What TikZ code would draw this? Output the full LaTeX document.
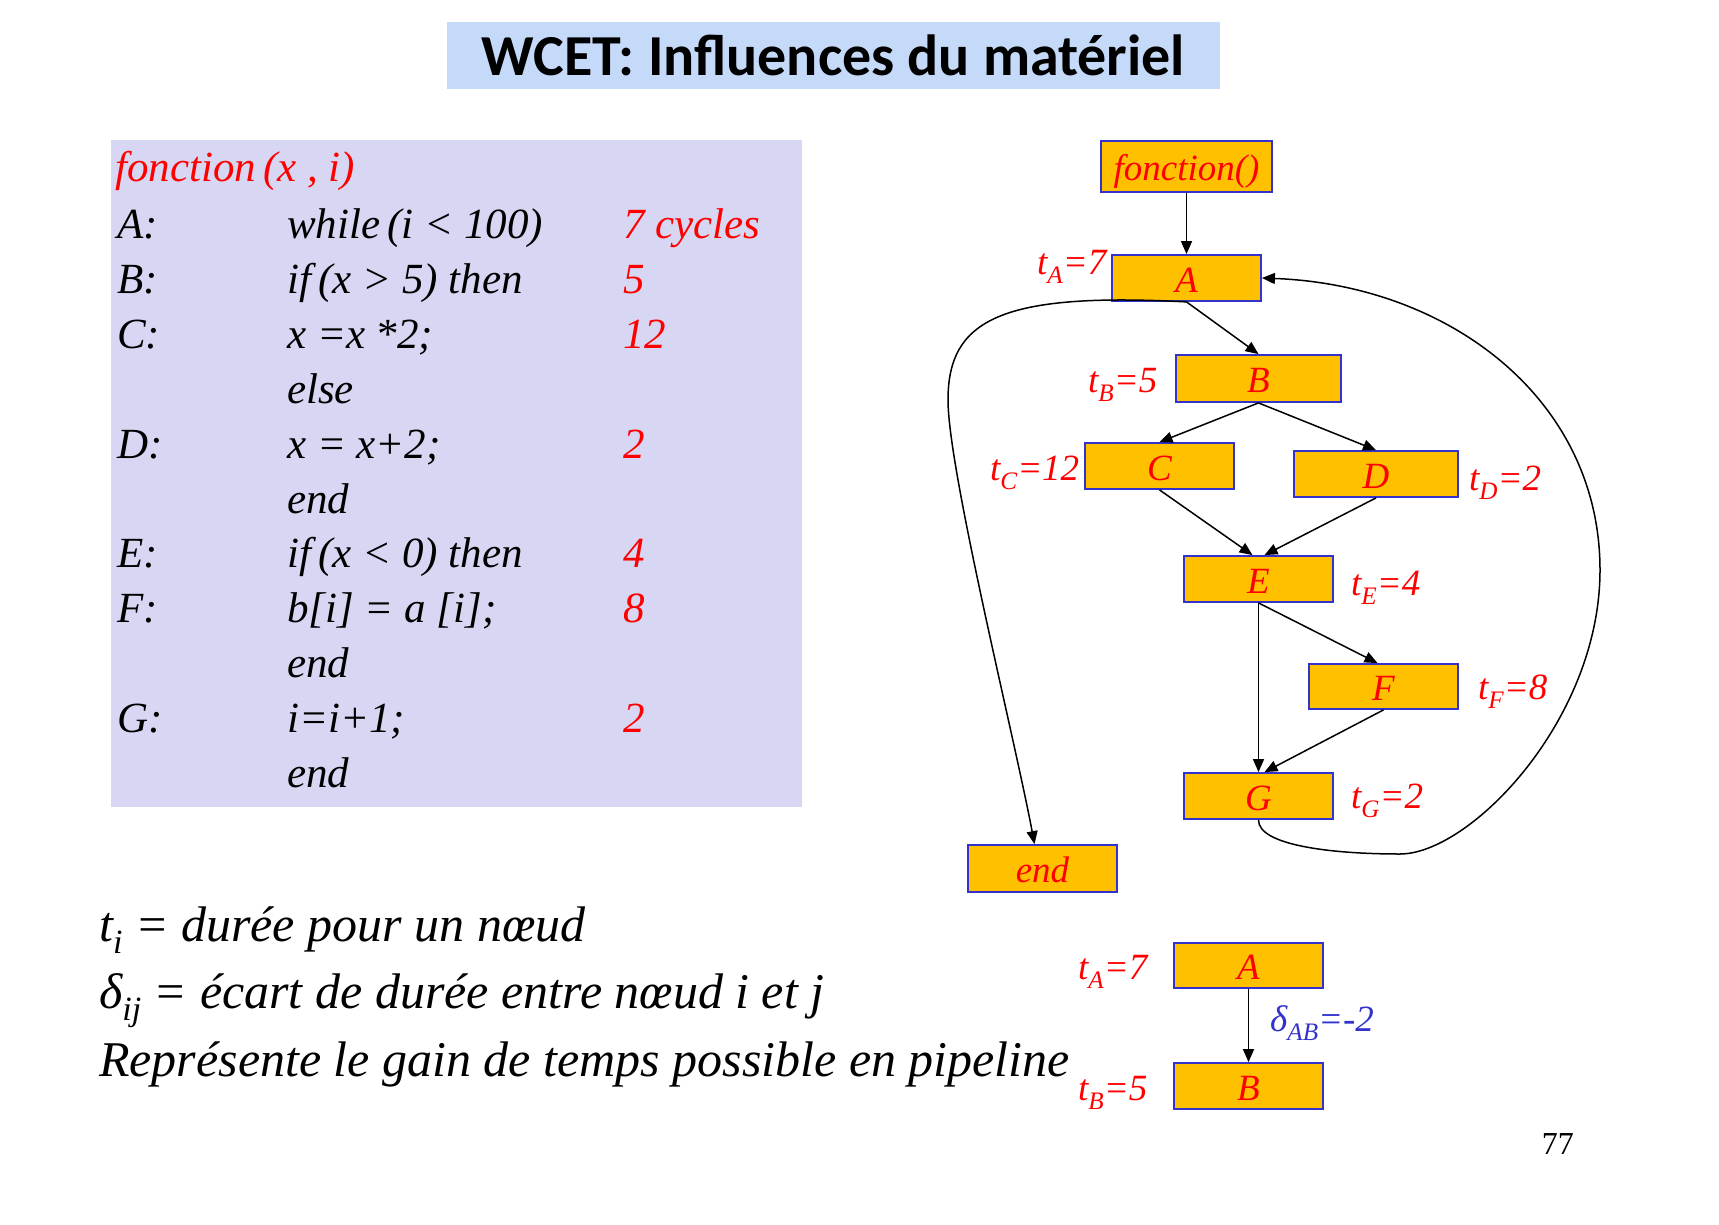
\documentclass[tikz,border=0pt]{standalone}
\usepackage{fontspec}
\usepackage{graphicx}
\setmainfont{Liberation Serif}
\newfontfamily\titlefont{Carlito}
\usetikzlibrary{arrows.meta}

\definecolor{boxgold}{RGB}{255,192,0}
\definecolor{boxblue}{RGB}{51,51,204}
\definecolor{codebg}{RGB}{215,215,244}
\definecolor{titlebg}{RGB}{197,217,248}

% lowered, reduced subscript in the current font
\newcommand\lowsub[1]{\raisebox{-0.25em}{\scalebox{0.68}{#1}}}

\begin{document}
\begin{tikzpicture}[x=1pt,y=-1pt,
  nbox/.style={draw=boxblue, fill=boxgold, line width=1.8pt,
    minimum width=149pt, minimum height=46pt, inner sep=0pt,
    text height=30pt, text depth=2pt, text=red,
    font=\itshape\fontsize{37}{40}\selectfont},
  tlabel/.style={anchor=base west, inner sep=0pt, text=red,
    font=\itshape\fontsize{37}{40}\selectfont},
  codetxt/.style={anchor=base west, inner sep=0pt,
    font=\itshape\fontsize{43}{46}\selectfont},
  codenum/.style={codetxt, text=red},
  legendtxt/.style={anchor=base west, inner sep=0pt,
    font=\itshape\fontsize{50}{54}\selectfont},
  flow/.style={line width=1.5pt, draw=black,
    -{Triangle[length=13pt,width=11pt]}}]

\useasboundingbox (0,0) rectangle (1719,1225);
\fill[white] (0,0) rectangle (1719,1225);

% title
\node[fill=titlebg, minimum width=773pt, minimum height=67pt, inner sep=0pt,
  font=\titlefont\bfseries\fontsize{58}{62}\selectfont] (title) at (833.5,55.5)
  {WCET: Influences du matériel};

% code listing
\fill[codebg] (111,140) rectangle (802,807);
\node[codenum] (sig) at (115,182) {fonction\,(x , i)};

\node[codetxt] (labA) at (117,239) {A:};
\node[codetxt] (codeA) at (287,239) {while\,(i < 100)};
\node[codenum] (numA) at (623,239) {7 cycles};

\node[codetxt] (labB) at (117,293.8) {B:};
\node[codetxt] (codeB) at (287,293.8) {if\,(x > 5) then};
\node[codenum] (numB) at (623,293.8) {5};

\node[codetxt] (labC) at (117,348.6) {C:};
\node[codetxt] (codeC) at (287,348.6) {x =x *2;};
\node[codenum] (numC) at (623,348.6) {12};

\node[codetxt] (else1) at (287,403.4) {else};

\node[codetxt] (labD) at (117,458.2) {D:};
\node[codetxt] (codeD) at (287,458.2) {x = x+2;};
\node[codenum] (numD) at (623,458.2) {2};

\node[codetxt] (end1) at (287,513) {end};

\node[codetxt] (labE) at (117,567.8) {E:};
\node[codetxt] (codeE) at (287,567.8) {if\,(x < 0) then};
\node[codenum] (numE) at (623,567.8) {4};

\node[codetxt] (labF) at (117,622.6) {F:};
\node[codetxt] (codeF) at (287,622.6) {b[i] = a [i];};
\node[codenum] (numF) at (623,622.6) {8};

\node[codetxt] (end2) at (287,677.4) {end};

\node[codetxt] (labG) at (117,732.2) {G:};
\node[codetxt] (codeG) at (287,732.2) {i=i+1;};
\node[codenum] (numG) at (623,732.2) {2};

\node[codetxt] (end3) at (287,787) {end};

% legend
\node[legendtxt] (leg1) at (99,941) {t\lowsub{i} = durée pour un nœud};
\node[legendtxt] (leg2) at (99,1008) {δ\lowsub{ij} = écart de durée entre nœud i et j};
\node[legendtxt] (leg3) at (99,1076) {Représente le gain de temps possible en pipeline};

% control flow graph
\node[nbox, minimum width=171pt, minimum height=51pt] (fonc) at (1186.5,166.5) {fonction()};
\node[nbox] (A) at (1186.5,278) {A};
\node[nbox, minimum width=165pt, minimum height=47pt] (B) at (1258.5,378.5) {B};
\node[nbox] (C) at (1159.5,466) {C};
\node[nbox, minimum width=164pt] (D) at (1376,474) {D};
\node[nbox] (E) at (1258.5,579) {E};
\node[nbox, minimum height=45pt] (F) at (1383.5,686.5) {F};
\node[nbox] (G) at (1258.5,796) {G};
\node[nbox, minimum height=47pt] (fin) at (1042.5,868.5) {end};

\node[tlabel] (tA) at (1037,274) {t\lowsub{A}=7};
\node[tlabel] (tB) at (1088,392) {t\lowsub{B}=5};
\node[tlabel] (tC) at (990,480) {t\lowsub{C}=12};
\node[tlabel] (tD) at (1469,490) {t\lowsub{D}=2};
\node[tlabel] (tE) at (1351,595) {t\lowsub{E}=4};
\node[tlabel] (tF) at (1478,699) {t\lowsub{F}=8};
\node[tlabel] (tG) at (1351,808) {t\lowsub{G}=2};

\draw[flow] (fonc.south) -- (A.north);
\draw[flow] (A.south) -- (B.north);
\draw[flow] (B.south) -- (C.north);
\draw[flow] (B.south) -- (D.north);
\draw[flow] (C.south) -- ([xshift=-6pt]E.north);
\draw[flow] (D.south) -- ([xshift=6pt]E.north);
\draw[flow] (E.south) -- ([xshift=-6pt]F.north);
\draw[flow] (E.south) -- (G.north);
\draw[flow] (F.south) -- ([xshift=6pt]G.north);
% loop exit
\draw[flow] (A.south) .. controls (1000,292) and (948,320) .. (948,400)
  .. controls (948,470) and (1015,740) .. ([xshift=-8pt]fin.north);
% loop back edge
\draw[flow] (G.south) .. controls (1258,845) and (1330,854) .. (1400,854)
  .. controls (1470,854) and (1600,720) .. (1600,570)
  .. controls (1600,400) and (1450,285) .. (A.east);

% pipeline pair
\node[nbox, minimum height=45pt] (A2) at (1248.5,965.5) {A};
\node[nbox] (B2) at (1248.5,1086) {B};
\node[tlabel] (tA2) at (1078,979) {t\lowsub{A}=7};
\node[tlabel] (tB2) at (1078,1100) {t\lowsub{B}=5};
\draw[flow] (A2.south) -- (B2.north);
\node[tlabel, text=boxblue] (dAB) at (1270,1031) {δ\lowsub{AB}=-2};

% page number
\node[anchor=base east, inner sep=0pt, font=\fontsize{32}{34}\selectfont] (page) at (1574,1154) {77};

\end{tikzpicture}
\end{document}
